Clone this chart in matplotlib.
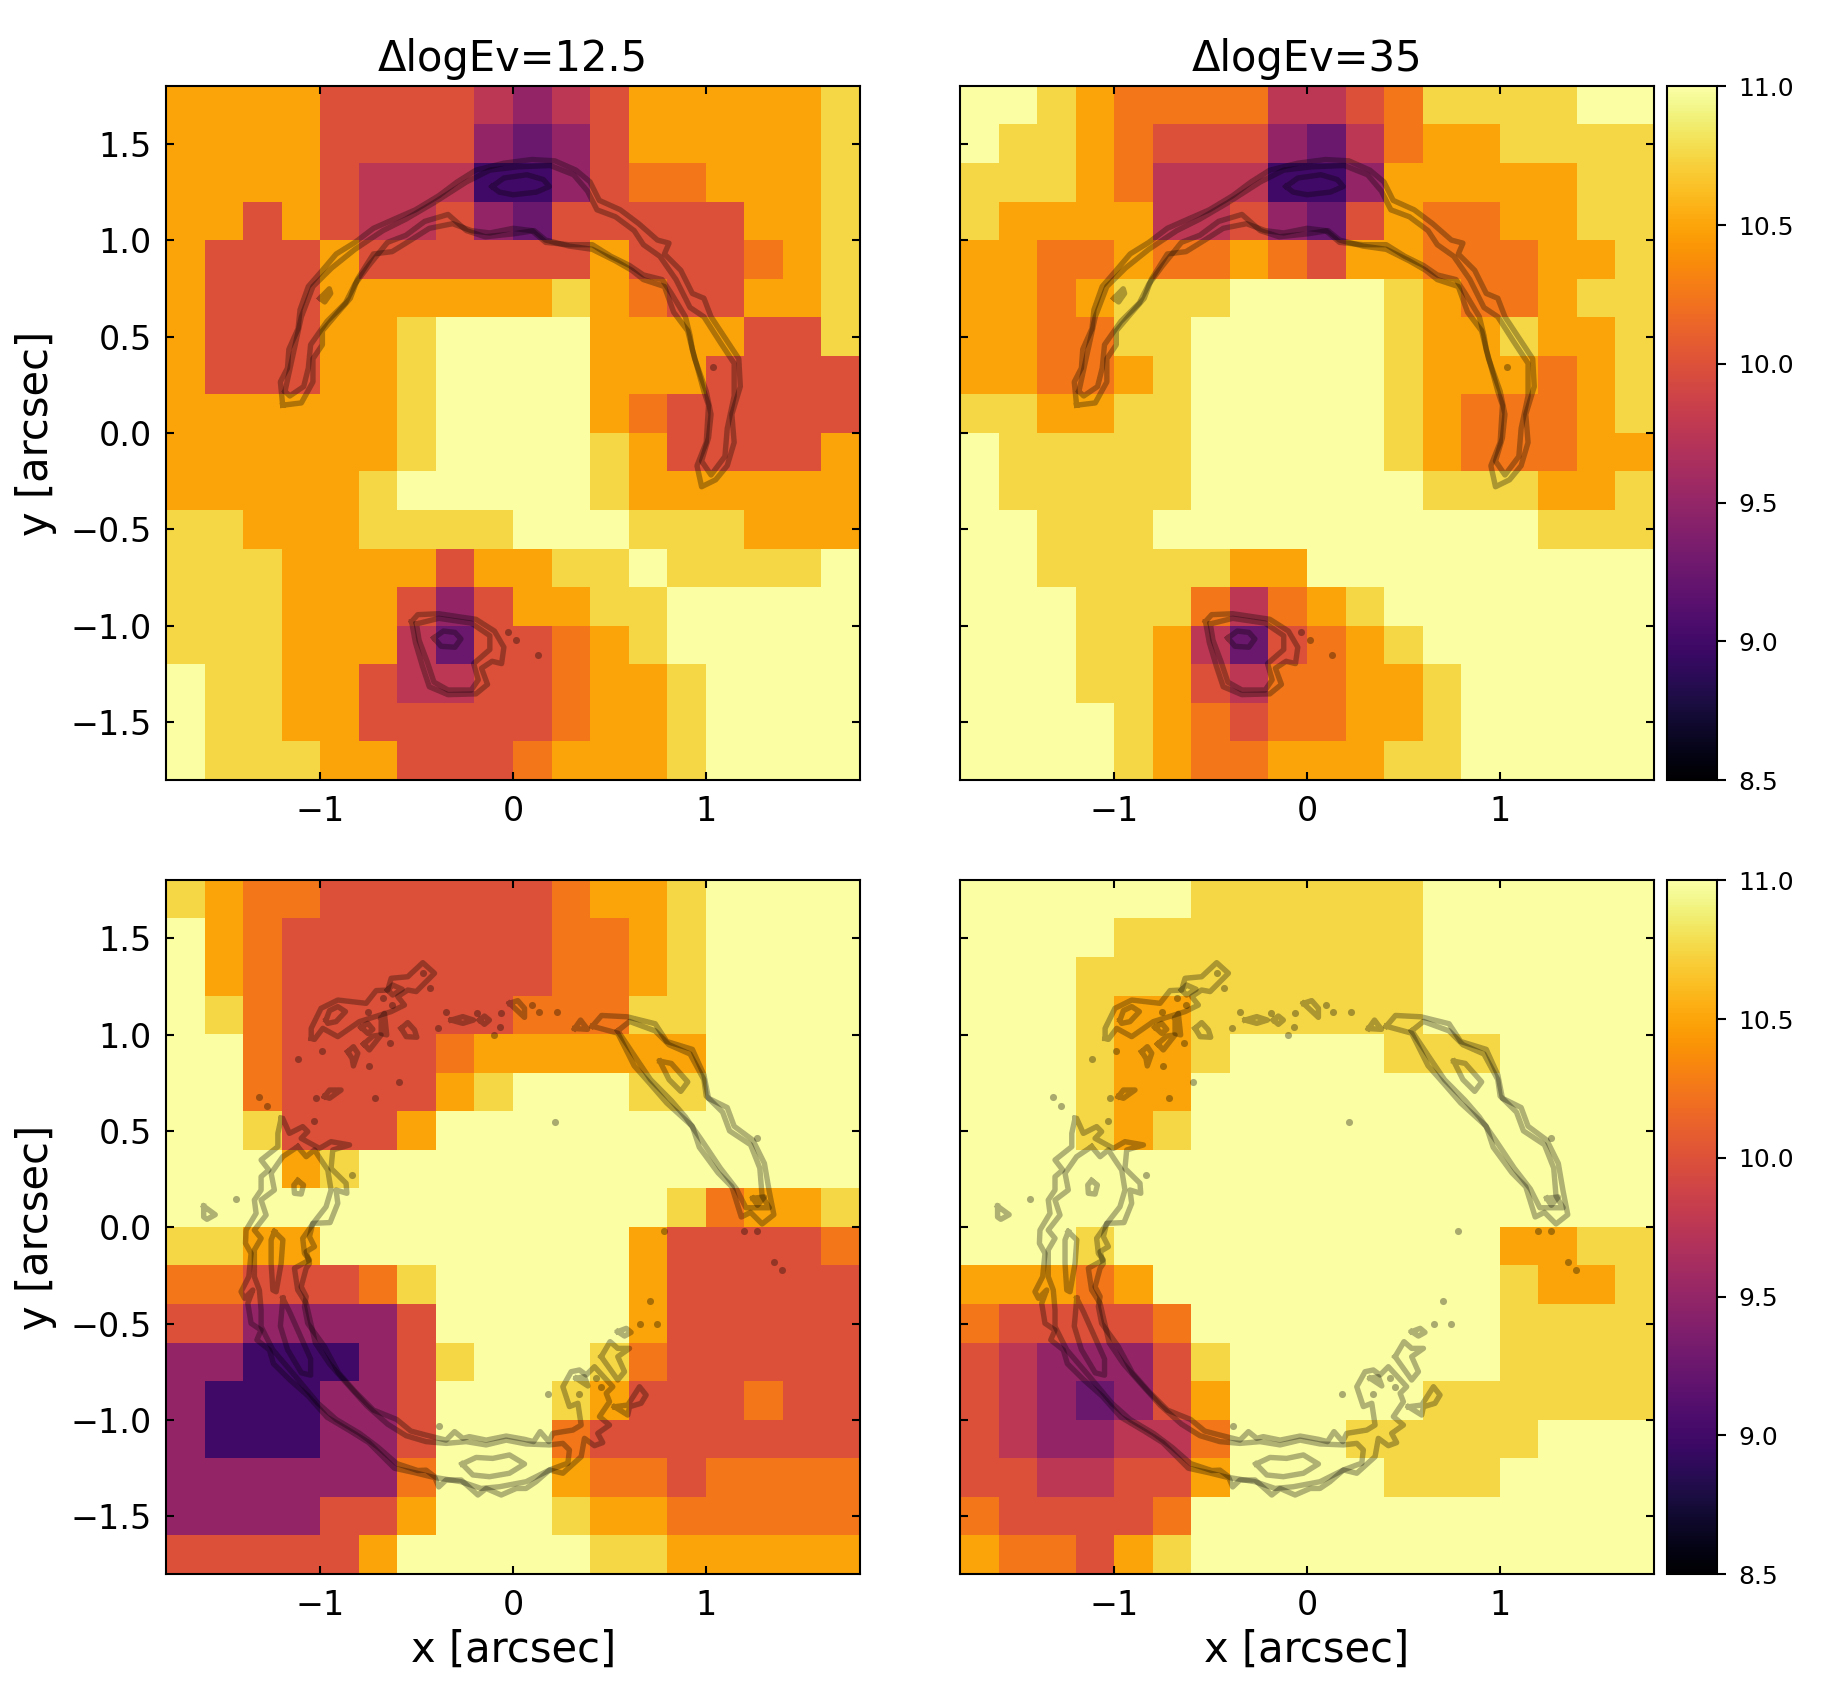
import numpy as np
import matplotlib
matplotlib.use("Agg")
import matplotlib.pyplot as plt

# logM maps, top row of the picture first, 0.2 arcsec pixels
map_top_left = [
    [10.5,10.5,10.5,10.5,10,10,10,10,9.75,9.5,9.75,10,10.5,10.5,10.5,10.5,10.5,10.75],
    [10.5,10.5,10.5,10.5,10,10,10,10,9.5,9.25,9.5,10,10.5,10.5,10.5,10.5,10.5,10.75],
    [10.5,10.5,10.5,10.5,10,9.75,9.75,9.75,9,9,9.5,10,10.25,10.25,10.5,10.5,10.5,10.75],
    [10.5,10.5,10,10.5,10,9.75,9.75,10,9.5,9.25,10,10,10,10,10,10.5,10.5,10.75],
    [10.5,10,10,10,10.5,10,10,10,10,10,10,10.5,10,10,10,10.25,10.5,10.75],
    [10.5,10,10,10,10.5,10.5,10.5,10.5,10.5,10.5,10.75,10.5,10.25,10,10,10.5,10.5,10.75],
    [10.5,10,10,10,10.5,10.5,10.75,11,11,11,11,10.5,10.5,10.5,10.5,10,10,10.75],
    [10.5,10,10,10,10.5,10.5,10.75,11,11,11,11,10.5,10.5,10.5,10,10,10,10],
    [10.5,10.5,10.5,10.5,10.5,10.5,10.75,11,11,11,11,10.5,10.25,10,10,10,10,10],
    [10.5,10.5,10.5,10.5,10.5,10.5,10.75,11,11,11,11,10.75,10.5,10,10,10,10,10.5],
    [10.5,10.5,10.5,10.5,10.5,10.75,11,11,11,11,11,10.75,10.5,10.5,10.5,10.5,10.5,10.5],
    [10.75,10.75,10.5,10.5,10.5,10.75,10.75,10.75,10.75,11,11,11,10.75,10.75,10.75,10.5,10.5,10.5],
    [10.75,10.75,10.75,10.5,10.5,10.5,10.5,10,10.5,10.5,10.75,10.75,11,10.75,10.75,10.75,10.75,11],
    [10.75,10.75,10.75,10.5,10.5,10.5,10,9.5,10,10.5,10.5,10.75,10.75,11,11,11,11,11],
    [10.75,10.75,10.75,10.5,10.5,10.5,9.75,9.25,10,10,10.25,10.5,10.75,11,11,11,11,11],
    [11,10.75,10.75,10.5,10.5,10,9.75,9.75,10,10,10.25,10.5,10.5,10.75,11,11,11,11],
    [11,10.75,10.75,10.5,10.5,10,10,10,10,10,10.25,10.5,10.5,10.75,11,11,11,11],
    [11,10.75,10.75,10.75,10.5,10.5,10,10,10,10.25,10.5,10.5,10.5,10.75,11,11,11,11],
]
map_top_right = [
    [11,11,10.75,10.5,10.25,10.25,10.25,10.25,9.75,9.75,10,10.25,10.75,10.75,10.75,10.75,11,11],
    [11,10.75,10.75,10.5,10.25,10,10,10,9.5,9.25,9.75,10.25,10.5,10.5,10.75,10.75,10.75,10.75],
    [10.75,10.75,10.75,10.5,10.25,9.75,9.75,9.75,9,9,9.5,10.5,10.5,10.5,10.5,10.5,10.75,10.75],
    [10.75,10.5,10.5,10.5,10.5,9.75,9.75,10,9.5,9.25,10,10.5,10.25,10.25,10.5,10.5,10.75,10.75],
    [10.5,10.5,10.25,10.25,10.5,10.25,10.25,10.5,10.25,10,10.5,10.5,10.25,10.25,10.25,10.5,10.5,10.75],
    [10.5,10.5,10.25,10.5,10.75,10.75,10.75,11,11,11,11,10.75,10.5,10.25,10.25,10.5,10.75,10.75],
    [10.5,10.5,10.25,10.25,10.75,10.75,11,11,11,11,11,10.75,10.5,10.5,10.75,10.5,10.5,10.75],
    [10.5,10.5,10.25,10.25,10.5,10.75,11,11,11,11,11,10.75,10.5,10.5,10.5,10.25,10.5,10.75],
    [10.75,10.75,10.5,10.5,10.75,10.75,11,11,11,11,11,10.75,10.5,10.25,10.25,10.25,10.5,10.75],
    [11,10.75,10.75,10.75,10.75,10.75,11,11,11,11,11,10.75,10.5,10.25,10.25,10.25,10.5,10.5],
    [11,10.75,10.75,10.75,10.75,10.75,11,11,11,11,11,11,10.75,10.75,10.75,10.5,10.5,10.75],
    [11,11,10.75,10.75,10.75,11,11,11,11,11,11,11,11,11,11,10.75,10.75,10.75],
    [11,11,10.75,10.75,10.75,10.75,10.75,10.5,10.5,11,11,11,11,11,11,11,11,11],
    [11,11,11,10.75,10.75,10.75,10.25,9.75,10.25,10.5,10.75,11,11,11,11,11,11,11],
    [11,11,11,10.75,10.75,10.5,9.75,9.25,10,10.25,10.5,10.75,11,11,11,11,11,11],
    [11,11,11,10.75,10.75,10.5,10,9.75,10.25,10.25,10.5,10.5,10.75,11,11,11,11,11],
    [11,11,11,11,10.75,10.5,10.25,10,10.25,10.25,10.5,10.5,10.75,11,11,11,11,11],
    [11,11,11,11,10.75,10.5,10.25,10.25,10.5,10.5,10.5,10.75,10.75,11,11,11,11,11],
]
map_bottom_left = [
    [10.75,10.5,10.25,10.25,10,10,10,10,10,10,10.25,10.5,10.5,10.75,11,11,11,11],
    [11,10.5,10.25,10,10,10,10,10,10,10,10.25,10.25,10.5,10.75,11,11,11,11],
    [11,10.5,10.25,10,10,10,10,10,10,10,10.25,10.25,10.5,10.75,11,11,11,11],
    [11,10.75,10.25,10,10,10,10,10,10,10.25,10.25,10.25,10.75,10.75,11,11,11,11],
    [11,11,10.25,10,10,10,10,10.25,10.5,10.5,10.5,10.5,10.5,10.5,11,11,11,11],
    [11,11,10.25,10,10,10,10,10.5,10.75,11,11,11,10.75,10.75,11,11,11,11],
    [11,11,10.75,10,10,10,10.5,11,11,11,11,11,11,11,11,11,11,11],
    [11,11,11,10.5,10.75,11,11,11,11,11,11,11,11,11,11,11,11,11],
    [11,11,11,11,11,11,11,11,11,11,11,11,11,10.75,10.25,10.5,10.5,10.75],
    [10.75,10.75,10.5,10.5,11,11,11,11,11,11,11,11,10.5,10,10,10,10,10.25],
    [10.25,10.25,10,10,10,10.25,10.75,11,11,11,11,11,10.5,10,10,10,10,10],
    [10,10,9.5,9.5,9.5,9.5,10,11,11,11,11,11,10.5,10,10,10,10,10],
    [9.5,9.5,9,9,9,9.5,10,10.75,11,11,11,10.75,10.25,10,10,10,10,10],
    [9.5,9,9,9,9.5,9.5,10,11,11,11,10.75,10.5,10,10,10,10.25,10,10],
    [9.5,9,9,9,9.5,9.5,10,11,11,11,10.25,10,10,10,10,10,10,10],
    [9.5,9.5,9.5,9.5,9.5,9.5,10.25,11,11,11,10.5,10.25,10.25,10,10.25,10.25,10.25,10.25],
    [9.5,9.5,9.5,9.5,10,10,10.5,11,11,11,10.75,10.5,10.5,10.25,10.25,10.25,10.25,10.25],
    [10,10,10,10,10,10.5,11,11,11,11,11,10.75,10.75,10.5,10.5,10.5,10.5,10.5],
]
map_bottom_right = [
    [11,11,11,11,11,11,10.75,10.75,10.75,10.75,10.75,10.75,11,11,11,11,11,11],
    [11,11,11,11,10.75,10.75,10.75,10.75,10.75,10.75,10.75,10.75,11,11,11,11,11,11],
    [11,11,11,10.75,10.75,10.75,10.75,10.75,10.75,10.75,10.75,10.75,11,11,11,11,11,11],
    [11,11,11,10.75,10.5,10.5,10.75,10.75,10.75,10.75,10.75,10.75,11,11,11,11,11,11],
    [11,11,11,10.75,10.5,10.5,10.75,11,11,11,11,10.75,10.75,10.75,11,11,11,11],
    [11,11,11,10.75,10.5,10.5,11,11,11,11,11,11,11,11,11,11,11,11],
    [11,11,11,10.75,10.5,10.75,11,11,11,11,11,11,11,11,11,11,11,11],
    [11,11,11,11,11,11,11,11,11,11,11,11,11,11,11,11,11,11],
    [11,11,11,11,11,11,11,11,11,11,11,11,11,11,11,11,11,11],
    [11,11,11,10.75,11,11,11,11,11,11,11,11,11,11,10.5,10.5,10.75,10.75],
    [10.5,10.5,10.5,10.25,10.5,11,11,11,11,11,11,11,11,11,10.75,10.5,10.5,10.75],
    [10.25,10,10,10,10,10.25,11,11,11,11,11,11,11,11,10.75,10.75,10.75,10.75],
    [10,9.75,9.5,9.5,9.5,10,10.75,11,11,11,11,11,11,11,10.75,10.75,10.75,10.75],
    [10,9.75,9.5,9.25,9.5,10,10.5,11,11,11,11,11,10.75,10.75,10.75,10.75,10.75,10.75],
    [10,9.75,9.5,9.5,9.75,9.75,10.25,11,11,11,10.75,10.75,10.75,10.75,10.75,11,11,11],
    [10,10,9.75,9.75,10,10,10.5,11,11,11,11,10.75,10.75,10.75,11,11,11,11],
    [10.25,10,10,10,10,10.25,11,11,11,11,11,11,11,11,11,11,11,11],
    [10.5,10.25,10.25,10,10.5,10.75,11,11,11,11,11,11,11,11,11,11,11,11],
]
titles = ["ΔlogEv=12.5", "ΔlogEv=35"]

# contours of the lensed image in arcsec, one list of (x, y) per closed line
arcs_upper = [
    [(-1.196,.145),(-1.208,.266),(-1.171,.338),(-1.164,.435),(-1.116,.543),(-1.106,.64),(-1.063,.761),(-.99,.845),(-.918,.93),(-.821,.99),(-.725,1.063),(-.628,1.106),(-.507,1.159),(-.386,1.232),(-.29,1.304),(-.193,1.365),(-.048,1.401),(.097,1.42),(.217,1.413),(.326,1.365),(.399,1.304),(.447,1.208),(.556,1.159),(.652,1.087),(.749,1.002),(.809,.986),(.785,.93),(.87,.845),(.93,.725),(.99,.7),(1.027,.604),(1.099,.495),(1.171,.386),(1.179,.242),(1.135,.097),(1.147,-.048),(1.111,-.169),(1.051,-.242),(.978,-.278),(.954,-.169),(1.002,-.048),(1.014,.145),(.99,.217),(.93,.435),(.918,.507),(.894,.604),(.821,.725),(.773,.797),(.676,.821),(.604,.87),(.507,.918),(.411,.978),(.29,.978),(.169,.99),(.097,1.051),(0,1.063),(-.121,1.039),(-.217,1.051),(-.314,1.087),(-.435,1.063),(-.531,1.002),(-.628,.942),(-.725,.93),(-.809,.797),(-.845,.7),(-.918,.616),(-.99,.531),(-.99,.459),(-1.039,.386),(-1.039,.266),(-1.099,.157)],
    [(-1.184,.217),(-1.147,.386),(-1.099,.604),(-1.039,.761),(-.942,.857),(-.821,.954),(-.676,1.051),(-.556,1.111),(-.411,1.196),(-.242,1.304),(-.121,1.365),(.024,1.382),(.193,1.389),(.314,1.341),(.386,1.256),(.435,1.159),(.531,1.123),(.628,1.051),(.676,.978),(.761,.918),(.845,.797),(.918,.652),(.99,.604),(1.075,.471),(1.147,.362),(1.147,.193),(1.111,.024),(1.099,-.121),(1.027,-.217),(.978,-.145),(1.014,-.024),(1.027,.097),(1.002,.217),(.942,.386),(.906,.531),(.833,.628),(.785,.761),(.676,.797),(.616,.845),(.531,.894),(.411,.954),(.29,.971),(.169,1.002),(.109,1.051),(0,1.034),(-.145,1.019),(-.242,1.051),(-.338,1.135),(-.459,1.099),(-.556,1.027),(-.652,.99),(-.749,.87),(-.821,.773),(-.87,.676),(-.966,.58),(-1.051,.459),(-1.063,.338),(-1.087,.242),(-1.159,.193)],
    [(-.109,1.28),(-.048,1.324),(.072,1.341),(.157,1.316),(.188,1.28),(.121,1.251),(0,1.237),(-.072,1.251)],
    [(-1.002,.7),(-.954,.749),(-.947,.725),(-.978,.681)],
    [(-.527,-.978),(-.495,-.942),(-.386,-.937),(-.193,-.966),(-.097,-1.027),(-.048,-1.111),(-.06,-1.196),(-.109,-1.184),(-.164,-1.22),(-.133,-1.304),(-.193,-1.353),(-.338,-1.357),(-.435,-1.316),(-.471,-1.208),(-.507,-1.087)],
    [(-.502,-.99),(-.386,-.961),(-.217,-.986),(-.121,-1.051),(-.121,-1.123),(-.205,-1.196),(-.181,-1.28),(-.217,-1.333),(-.338,-1.333),(-.411,-1.292),(-.447,-1.184),(-.488,-1.075)],
    [(-.411,-1.063),(-.362,-1.027),(-.302,-1.034),(-.271,-1.068),(-.302,-1.111),(-.374,-1.106)],
]
specks_upper_x = [-.029,.017,.13,1.039]
specks_upper_y = [-1.031,-1.072,-1.152,.343]

arcs_lower = [
    [(-1.204,.565),(-1.221,.487),(-1.221,.418),(-1.308,.349),(-1.268,.297),(-1.308,.262),(-1.308,.193),(-1.343,.141),(-1.334,.072),(-1.386,-.015),(-1.389,-.084),(-1.36,-.136),(-1.372,-.257),(-1.412,-.335),(-1.394,-.369),(-1.351,-.326),(-1.377,-.395),(-1.36,-.499),(-1.308,-.534),(-1.33,-.585),(-1.265,-.637),(-1.244,-.708),(-1.159,-.792),(-1.063,-.877),(-.966,-.986),(-.845,-1.058),(-.749,-1.118),(-.676,-1.191),(-.616,-1.251),(-.507,-1.275),(-.406,-1.3),(-.386,-1.348),(-.348,-1.312),(-.27,-1.312),(-.183,-1.39),(-.14,-1.356),(-.062,-1.39),(.016,-1.356),(.067,-1.356),(.119,-1.321),(.189,-1.26),(.258,-1.277),(.353,-1.191),(.37,-1.096),(.422,-1.134),(.465,-1.118),(.439,-1.07),(.5,-1.027),(.448,-.983),(.5,-.906),(.483,-.862),(.517,-.828),(.422,-.724),(.379,-.767),(.344,-.741),(.301,-.75),(.258,-.828),(.292,-.931),(.336,-.914),(.353,-1.027),(.31,-1.053),(.206,-1.07),(.185,-1.113),(.14,-1.061),(.106,-1.113),(.059,-1.101),(-.036,-1.084),(-.14,-1.105),(-.227,-1.087),(-.261,-1.096),(-.304,-1.061),(-.348,-1.105),(-.452,-1.079),(-.531,-1.058),(-.604,-.998),(-.725,-.949),(-.821,-.853),(-.906,-.756),(-.979,-.62),(-1.066,-.499),(-1.083,-.412),(-1.074,-.36),(-1.1,-.309),(-1.074,-.213),(-1.057,-.188),(-1.074,-.127),(-1.031,-.101),(-1.057,-.049),(-1.04,.02),(-.95,.024),(-.91,.124),(-.919,.193),(-.863,.176),(-.867,.228),(-.945,.305),(-.936,.401),(-.849,.427),(-.945,.444),(-1.005,.409),(-1.1,.461),(-1.066,.496),(-1.092,.522),(-1.161,.487),(-1.196,.565)],
    [(-1.118,.418),(-1.196,.366),(-1.256,.28),(-1.239,.193),(-1.308,.141),(-1.282,.063),(-1.343,-.015),(-1.308,-.058),(-1.343,-.118),(-1.343,-.257),(-1.317,-.326),(-1.308,-.43),(-1.308,-.516),(-1.247,-.637),(-1.135,-.768),(-1.014,-.913),(-.918,-.998),(-.797,-1.07),(-.7,-1.143),(-.604,-1.227),(-.495,-1.263),(-.452,-1.261),(-.4,-1.3),(-.27,-1.321),(-.166,-1.356),(-.071,-1.347),(.067,-1.321),(.137,-1.286),(.189,-1.26),(.258,-1.234),(.284,-1.225),(.292,-1.156),(.258,-1.122),(.189,-1.13),(.067,-1.125),(-.036,-1.105),(-.14,-1.13),(-.244,-1.113),(-.348,-1.122),(-.452,-1.113),(-.556,-1.082),(-.652,-1.022),(-.761,-.925),(-.87,-.804),(-.954,-.708),(-1.027,-.599),(-1.074,-.395),(-1.118,-.326),(-1.135,-.213),(-1.057,-.17),(-1.083,-.136),(-1.092,-.058),(-1.031,.029),(-.971,.106),(-.945,.193),(-.962,.297),(-.997,.349),(-1.031,.401),(-1.074,.366)],
    [(-1.239,-.023),(-1.195,-.066),(-1.204,-.188),(-1.23,-.335),(-1.247,-.326),(-1.256,-.188),(-1.256,-.066)],
    [(-1.195,-.369),(-1.159,-.442),(-1.051,-.684),(-1.051,-.768),(-1.099,-.756),(-1.171,-.635),(-1.208,-.514)],
    [(-1.118,.242),(-1.088,.219),(-1.1,.172),(-1.135,.176),(-1.138,.219)],
    [(-1.606,.109),(-1.546,.065),(-1.589,.041),(-1.606,.053)],
    [(.411,1.043),(.459,1.099),(.592,1.092),(.737,1.056),(.797,.964),(.93,.923),(.99,.79),(1.014,.669),(1.111,.621),(1.147,.524),(1.244,.452),(1.304,.331),(1.329,.186),(1.353,.065),(1.292,.017),(1.232,.077),(1.184,.053),(1.135,.21),(1.063,.283),(.966,.415),(.93,.524),(.797,.645),(.713,.742),(.628,.838),(.543,1.007)],
    [(.543,1.019),(.604,1.068),(.737,1.019),(.809,.947),(.918,.899),(.99,.766),(1.002,.681),(1.087,.597),(1.123,.5),(1.232,.428),(1.28,.307),(1.292,.162),(1.329,.101),(1.208,.101),(1.159,.198),(1.075,.307),(.978,.452),(.894,.572),(.821,.657),(.713,.766),(.64,.874)],
    [(.761,.862),(.821,.85),(.906,.754),(.87,.705),(.809,.766)],
    [(1.244,.15),(1.304,.157),(1.268,.114)],
    [(.457,-.672),(.503,-.594),(.543,-.629),(.604,-.629),(.543,-.672),(.578,-.75),(.543,-.793)],
    [(.543,-.542),(.587,-.525),(.612,-.546),(.578,-.565)],
    [(.526,-.932),(.595,-.923),(.656,-.828),(.69,-.871),(.664,-.914),(.604,-.932),(.595,-.975)],
    [(.327,-.784),(.37,-.776),(.388,-.824)],
    [(-.265,-1.229),(-.192,-1.195),(-.106,-1.2),(-.019,-1.182),(.059,-1.229),(-.019,-1.277),(-.123,-1.295),(-.209,-1.286)],
    [(-1.048,.98),(-1.048,1.032),(-.997,1.136),(-.91,1.179),(-.763,1.162),(-.711,1.228),(-.651,1.231),(-.633,1.292),(-.547,1.3),(-.469,1.373),(-.408,1.318),(-.503,1.223),(-.547,1.231),(-.599,1.197),(-.564,1.153),(-.633,1.119),(-.798,1.067),(-.91,.989),(-.988,1.032),(-1.031,.975)],
    [(-.651,1.231),(-.625,1.257),(-.576,1.235),(-.625,1.205)],
    [(-.971,1.075),(-.953,1.124),(-.91,1.145),(-.87,1.119),(-.919,1.067),(-.962,1.058)],
    [(-.789,1.037),(-.754,1.058),(-.728,1.027),(-.754,1.006)],
    [(-.685,1.084),(-.668,1.11),(-.656,.998),(-.685,1.006)],
    [(-.775,.951),(-.728,.992),(-.685,.998),(-.746,.92)],
    [(-.858,.911),(-.829,.937),(-.806,.903),(-.829,.837),(-.836,.876)],
    [(-.581,1.032),(-.547,1.062),(-.512,1.024),(-.5,.986),(-.555,.989)],
    [(-.979,.678),(-.953,.712),(-.893,.712),(-.953,.669)],
    [(-.322,1.075),(-.261,1.093),(-.206,1.075),(-.261,1.058)],
    [(-.175,1.075),(-.149,1.096),(-.123,1.075),(-.149,1.053)],
    [(-.019,1.162),(.024,1.176),(.059,1.136),(.059,1.089)],
    [(.319,1.031),(.35,1.075),(.386,1.027)],
]
specks_lower_x = [-1.438,-.836,-1.031,-1.317,-1.279,1.268,.785,1.196,1.268,1.353,1.394,.708,.659,.749,.217,.431,.457,.341,.18,-.386,-.754,-.63,-.993,-1.114,-.638,-.749,-.715,-1.022,-.59,-.348,-.187,-.062,-.388,-.066,-.1,-.429,-.469,-.676,.229,.097,.135]
specks_lower_y = [.145,.271,.553,.674,.631,.464,-.019,-.019,-.019,-.181,-.22,-.382,-.502,-.502,.548,-.785,-.828,-.867,-.867,-1.03,1.115,1.153,.915,.873,.954,.837,.669,.669,.755,1.115,1.114,1.11,1.036,1.037,.998,1.243,1.321,1.188,1.116,1.152,1.116]

W, H = 1821, 1698
fig = plt.figure(figsize=(W / 300, H / 300), dpi=300)


def add_rect(x0, x1, y0, y1):
    # pixel box of the reference -> figure fractions
    return fig.add_axes([x0 / W, 1 - y1 / H, (x1 - x0) / W, (y1 - y0) / H])


def draw_panel(ax, values, arcs, specks_x, specks_y):
    im = ax.imshow(values, origin='upper', extent=[-1.8, 1.8, -1.8, 1.8], cmap='inferno',
                   vmin=8.5, vmax=11, interpolation='nearest', aspect='auto')
    for arc in arcs:
        pts = np.array(arc + [arc[0]])
        ax.plot(pts[:, 0], pts[:, 1], color='k', lw=1.3, alpha=0.3)
    ax.plot(specks_x, specks_y, 'o', color='k', ms=1.7, mew=0, alpha=0.33)
    ax.set_xlim(-1.8, 1.8)
    ax.set_ylim(-1.8, 1.8)
    ax.set_xticks([-1, 0, 1])
    ax.set_yticks([-1.5, -1, -0.5, 0, 0.5, 1, 1.5])
    ax.tick_params(direction='in', top=True, right=True, length=2, width=0.5, labelsize=8, pad=3.5)
    for s in ax.spines.values():
        s.set_linewidth(0.5)
    return im


ax1 = add_rect(166.3, 860, 86.3, 780)
ax2 = add_rect(960.2, 1653.9, 86.3, 780)
ax3 = add_rect(166.3, 860, 880.4, 1574)
ax4 = add_rect(960.2, 1653.9, 880.4, 1574)

im1 = draw_panel(ax1, map_top_left, arcs_upper, specks_upper_x, specks_upper_y)
im2 = draw_panel(ax2, map_top_right, arcs_upper, specks_upper_x, specks_upper_y)
im3 = draw_panel(ax3, map_bottom_left, arcs_lower, specks_lower_x, specks_lower_y)
im4 = draw_panel(ax4, map_bottom_right, arcs_lower, specks_lower_x, specks_lower_y)

ax1.set_title(titles[0], fontsize=10, pad=3.7)
ax2.set_title(titles[1], fontsize=10, pad=3.7)
ax2.tick_params(labelleft=False)
ax4.tick_params(labelleft=False)
ax1.set_ylabel('y [arcsec]', fontsize=10, labelpad=3.2)
ax3.set_ylabel('y [arcsec]', fontsize=10, labelpad=3.2)
ax3.set_xlabel('x [arcsec]', fontsize=10, labelpad=1.8)
ax4.set_xlabel('x [arcsec]', fontsize=10, labelpad=1.8)

cax1 = add_rect(1666.7, 1716.7, 86.3, 780)
cax2 = add_rect(1666.7, 1716.7, 880.4, 1574)
for im, cax in [(im2, cax1), (im4, cax2)]:
    cb = fig.colorbar(im, cax=cax)
    cb.set_ticks([8.5, 9, 9.5, 10, 10.5, 11])
    cb.ax.set_yticklabels(['8.5', '9.0', '9.5', '10.0', '10.5', '11.0'])
    cb.ax.tick_params(labelsize=6, length=2.2, width=0.5, pad=3)
    cb.outline.set_linewidth(0.5)

plt.savefig('out.png', dpi=300)
plt.close()
